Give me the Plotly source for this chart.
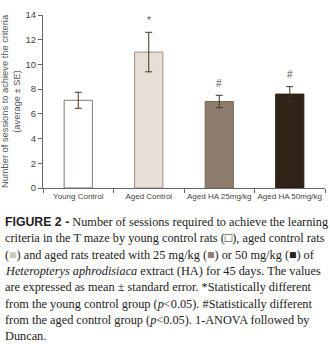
import plotly.graph_objects as go

categories = ["Young Control", "Aged Control", "Aged HA 25mg/kg", "Aged HA 50mg/kg"]
means = [7.1, 11.0, 7.0, 7.6]
se = [0.65, 1.6, 0.5, 0.6]
marks = ["", "*", "#", "#"]
fill_colors = ["#ffffff", "#e6dfd8", "#8e7d6d", "#2f2318"]
line_colors = ["#8a7462", "#a08e7e", "#7a6858", "#2f2318"]

caption_lines = [
    "<span style='font-family:Liberation Sans;font-weight:bold'>FIGURE 2 -</span> Number of sessions required to achieve the learning",
    "criteria in the T maze by young control rats (□), aged control rats",
    "(<span style='color:#cfc6bd'>■</span>) and aged rats treated with 25 mg/kg (<span style='color:#8e7d6d'>■</span>) or 50 mg/kg (■) of",
    "<i>Heteropterys aphrodisiaca</i> extract (HA) for 45 days. The values",
    "are expressed as mean ± standard error. *Statistically different",
    "from the young control group (<i>p</i><0.05). #Statistically different",
    "from the aged control group (<i>p</i><0.05). 1-ANOVA followed by",
    "Duncan.",
]

fig = go.Figure()
fig.add_trace(go.Bar(
    x=categories, y=means,
    marker=dict(color=fill_colors, line=dict(color=line_colors, width=1)),
    error_y=dict(type="data", array=se, color="#4a3222", thickness=1, width=3.5),
    width=0.4,
))

for c, m, s, mk in zip(categories, means, se, marks):
    if mk:
        fig.add_annotation(x=c, y=m + s + 0.95, text=mk, showarrow=False,
                           font=dict(family="Liberation Sans", size=10, color="#555"),
                           yanchor="middle")

y0 = 222
for i, line in enumerate(caption_lines):
    fig.add_annotation(xref="paper", yref="paper", x=-40/282, y=1 - (y0 + i*16.3 - 15)/173,
                       text=line, showarrow=False, xanchor="left", yanchor="middle",
                       font=dict(family="Liberation Serif", size=12.3, color="#222"),
                       align="left")

fig.update_layout(
    width=330, height=347,
    margin=dict(l=43, r=5, t=15, b=159),
    paper_bgcolor="white", plot_bgcolor="white",
    showlegend=False,
    bargap=0.6,
    xaxis=dict(type="category", tickson="boundaries", ticks="outside", ticklen=4,
               tickangle=0, automargin=False,
               showline=True, linecolor="#666", tickcolor="#666", showgrid=False,
               tickfont=dict(family="Liberation Sans", size=8, color="#444")),
    yaxis=dict(range=[0, 14], dtick=2, ticks="outside", ticklen=4,
               showline=True, linecolor="#666", tickcolor="#666", showgrid=False,
               zeroline=False, automargin=False,
               tickfont=dict(family="Liberation Sans", size=9.5, color="#444"),
               title=dict(text="Number of sessions to achieve the criteria<br>(average ± SE)",
                          font=dict(family="Liberation Sans", size=9.3, color="#555"),
                          standoff=6)),
)

fig.write_html("out.html")
